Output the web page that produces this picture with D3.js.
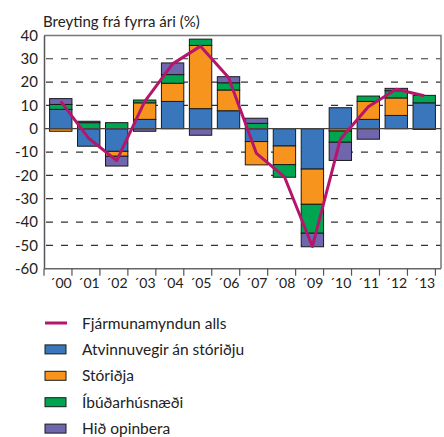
<!DOCTYPE html>
<html>
<head>
<meta charset="utf-8">
<script src="https://cdn.jsdelivr.net/npm/d3@7"></script>
<style>
  body { margin: 0; background: #fff; }
  svg text { font-family: Lato, "Open Sans", sans-serif; fill: #222; }
</style>
</head>
<body>
<div class="graph-container"></div>
<script>
// Data
var years = ['00', '01', '02', '03', '04', '05', '06', '07', '08', '09', '10', '11', '12', '13']
var atvinnuvegir = [8.3, -7.5, -9.7, 4.0, 11.7, 8.6, 7.7, -5.5, -7.4, -17.3, 9.0, 4.0, 5.7, 11.1]
var storidja = [-1.1, 0, -2.1, 7.1, 7.8, 27.1, 8.9, -10.0, -8.0, -15.1, -1.0, 7.7, 7.5, 0]
var ibudarhusnaedi = [2.1, 2.6, 2.6, 1.2, 3.7, 2.7, 3.1, 2.3, -5.4, -12.4, -4.8, 2.3, 3.1, 3.2]
var hidOpinbera = [2.5, 0.6, -4.2, -1.1, 5.0, -2.8, 2.6, 2.2, 0, -5.8, -7.8, -4.5, 1.0, -0.3]
var fjarmunamyndun = [11.7, -4.1, -13.7, 11.6, 27.8, 35.4, 22.0, -10.6, -20.6, -50.5, -4.5, 9.4, 16.9, 14.1]
var yTicks = [40, 30, 20, 10, 0, -10, -20, -30, -40, -50, -60]

var seriesNames = ['Atvinnuvegir án stóriðju', 'Stóriðja', 'Íbúðarhúsnæði', 'Hið opinbera']
var seriesValues = [atvinnuvegir, storidja, ibudarhusnaedi, hidOpinbera]
var colors = ['#3a76bc', '#f7941e', '#00a551', '#6f66ad']
var lineColor = '#b5166b'
var lineName = 'Fjármunamyndun alls'

// SVG setup
var W = 444, H = 437
var margin = {top: 35.4, right: 3, bottom: 168.3, left: 44}
var width = W - margin.left - margin.right,
    height = H - margin.top - margin.bottom

var svg = d3.select('.graph-container').append('svg')
    .attr('width', W)
    .attr('height', H)

var g = svg.append('g')
    .attr('transform', 'translate(' + margin.left + ',' + margin.top + ')')

var x = d3.scaleBand()
    .domain(years)
    .range([0, width])
    .padding(0.2)

var y = d3.scaleLinear()
    .domain([-60, 40])
    .range([height, 0])

// table for d3.stack
var table = years.map((yr, i) => {
  var row = {year: yr}
  seriesNames.forEach((n, k) => { row[n] = seriesValues[k][i] })
  return row
})

var stacked = d3.stack()
    .keys(seriesNames)
    .offset(d3.stackOffsetDiverging)(table)

// title
svg.append('text')
    .attr('x', 43)
    .attr('y', 27)
    .style('font-size', '15px')
    .text('Breyting frá fyrra ári (%)')

// gridlines
g.selectAll('.grid')
    .data(yTicks.filter(d => d !== 40 && d !== -60 && d !== 0))
    .enter().append('line')
    .attr('class', 'grid')
    .attr('x1', 2)
    .attr('x2', width)
    .attr('y1', d => y(d))
    .attr('y2', d => y(d))
    .attr('stroke', '#333')
    .attr('stroke-width', 1.2)
    .attr('stroke-dasharray', '7,8')

// frame top + right
g.append('path')
    .attr('d', 'M0,' + y(40) + 'H' + width + 'V' + height)
    .attr('fill', 'none')
    .attr('stroke', '#777')
    .attr('stroke-width', 1.5)

// bars
g.selectAll('.series')
    .data(stacked)
    .enter().append('g')
    .attr('class', 'series')
    .attr('fill', (d, i) => colors[i])
    .selectAll('rect')
    .data(d => d.filter(p => p[1] !== p[0]))
    .enter().append('rect')
    .attr('x', d => x(d.data.year))
    .attr('y', d => y(d[1]))
    .attr('width', x.bandwidth())
    .attr('height', d => y(d[0]) - y(d[1]))
    .attr('stroke', '#1a1a1a')
    .attr('stroke-width', 1)

// zero line
g.append('line')
    .attr('x1', 0)
    .attr('x2', width)
    .attr('y1', y(0))
    .attr('y2', y(0))
    .attr('stroke', '#444')
    .attr('stroke-width', 1.2)

// total line
var line = d3.line()
    .x((d, i) => x(years[i]) + x.bandwidth() / 2)
    .y(d => y(d))

g.append('path')
    .datum(fjarmunamyndun)
    .attr('d', line)
    .attr('fill', 'none')
    .attr('stroke', lineColor)
    .attr('stroke-width', 3)
    .attr('stroke-linejoin', 'round')

// y axis
var yAxis = d3.axisLeft(y).tickValues(yTicks).tickSize(0).tickPadding(6)
  .tickFormat(d => d < 0 ? '-' + Math.abs(d) : d)
var ya = g.append('g').call(yAxis)
ya.select('.domain').attr('stroke', '#555').attr('stroke-width', 1.5)
ya.selectAll('text').style('font-size', '15px').attr('fill', '#222')

// x axis with ticks at band boundaries
var xa = g.append('g').attr('transform', 'translate(0,' + height + ')')
xa.append('line')
    .attr('x1', 0).attr('x2', width)
    .attr('stroke', '#666').attr('stroke-width', 1.5)
xa.selectAll('.xtick')
    .data(d3.range(years.length + 1))
    .enter().append('line')
    .attr('class', 'xtick')
    .attr('x1', i => i * x.step())
    .attr('x2', i => i * x.step())
    .attr('y1', 0).attr('y2', 7)
    .attr('stroke', '#555').attr('stroke-width', 1.2)
xa.selectAll('.xlabel')
    .data(years)
    .enter().append('text')
    .attr('class', 'xlabel')
    .attr('x', d => x(d) + x.bandwidth() / 2)
    .attr('y', 19.5)
    .attr('text-anchor', 'middle')
    .style('font-size', '14px')
    .text(d => '\u00b4' + d)

// legend
var legend = svg.append('g').attr('transform', 'translate(44,323)')
var rowH = 26.4
legend.append('line')
    .attr('x1', 1).attr('x2', 23)
    .attr('stroke', lineColor).attr('stroke-width', 3)
legend.append('text')
    .attr('x', 38).attr('y', 5.5)
    .style('font-size', '15.5px')
    .text(lineName)

seriesNames.forEach((n, k) => {
  var row = legend.append('g').attr('transform', 'translate(0,' + (rowH * (k + 1)) + ')')
  row.append('rect')
      .attr('x', 1).attr('y', -4.5)
      .attr('width', 21).attr('height', 9)
      .attr('fill', colors[k])
      .attr('stroke', '#1a1a1a').attr('stroke-width', 1)
  row.append('text')
      .attr('x', 38).attr('y', 5.5)
      .style('font-size', '15.5px')
      .text(n)
})
</script>
</body>
</html>
